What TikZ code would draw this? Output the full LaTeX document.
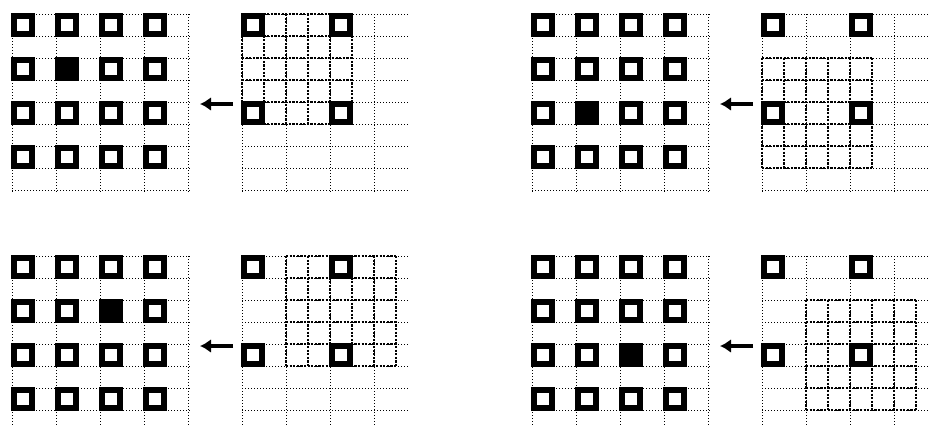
\documentclass[tikz,border=0pt]{standalone}
\usetikzlibrary{arrows.meta}

\tikzset{
  pix/.style={rectangle, draw=black, fill=white, line width=3.2pt, inner sep=0pt, minimum size=9pt},
  pixon/.style={pix, fill=black},
  dotline/.style={line width=0.5pt, dash pattern=on 0.5pt off 1pt},
  boldline/.style={line width=1.4pt, dash pattern=on 1.1pt off 0.7pt},
  backarrow/.style={line width=2.3pt, -{Latex[length=5.5pt,width=7pt]}}
}

\begin{document}
\begin{tikzpicture}[x=0.5pt,y=-0.5pt]
\useasboundingbox (0,0) rectangle (928,430);
% four panels: name / corner / filled pixel / lines / height
\foreach \p/\ox/\oy/\fr/\fc/\n/\v in {a/12/14/1/1/8/178, b/532/14/2/1/8/178, c/12/256/1/2/7/170, d/532/256/2/2/7/170}{
  \pgfmathsetmacro{\rx}{\ox+230}
  \pgfmathsetmacro{\bx}{\rx+(\fc-1)*44}
  \pgfmathsetmacro{\by}{\oy+(\fr-1)*44}
  % left grid
  \foreach \k in {0,...,\n} \draw[dotline] (\ox,\oy+\k*22) -- ++(178,0);
  \foreach \j in {0,...,4} \draw[dotline] (\ox+\j*44,\oy) -- ++(0,\v);
  % right grid
  \foreach \k in {0,...,\n} \draw[dotline] (\rx,\oy+\k*22) -- ++(166,0);
  \foreach \j in {0,...,3} \draw[dotline] (\rx+\j*44,\oy) -- ++(0,\v);
  \foreach \k in {0,...,5}{
    \draw[boldline] (\bx,\by+\k*22) -- ++(110,0);
    \draw[boldline] (\bx+\k*22,\by) -- ++(0,110);
  }
  % input pixels
  \foreach \i in {0,...,3}
    \foreach \j in {0,...,3}{
      \ifnum\i\j=\fr\fc\relax\def\pixsty{pixon}\else\def\pixsty{pix}\fi
      \node[\pixsty] (\p\i\j) at (\ox+11+\j*44,\oy+11+\i*44) {};
    }
  % output pixels
  \foreach \i in {0,1}
    \foreach \j in {0,1}
      \node[pix] (\p r\i\j) at (\rx+11+\j*88,\oy+11+\i*88) {};
  \coordinate (\p-from) at (\rx-9,\oy+90);
  \coordinate (\p-to) at (\rx-42,\oy+90);
  \draw[backarrow] (\p-from) -- (\p-to);
}
\end{tikzpicture}
\end{document}
